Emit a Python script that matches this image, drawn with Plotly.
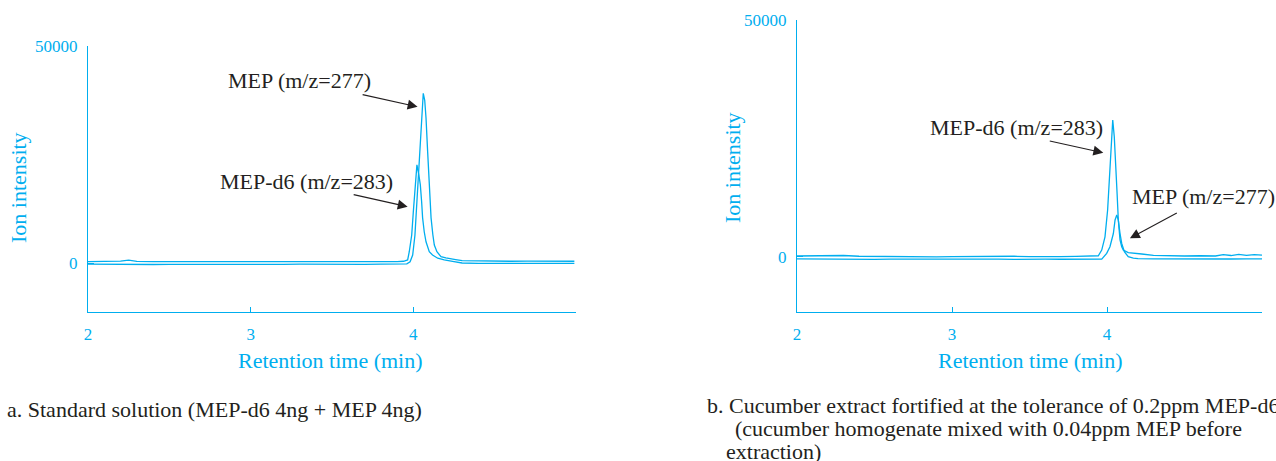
import plotly.graph_objects as go

W, H = 1276, 461
CYAN = "#00aeef"
INK = "#231f20"
FONT = "Liberation Serif"

# ---------------- data (retention time in min, ion intensity) ----------------
# Panel a: standard solution
a_mep_t = [2.00, 2.10, 2.20, 2.25, 2.30, 2.40, 2.50, 2.60, 2.70, 2.80, 2.90, 3.00, 3.10, 3.20,
           3.30, 3.40, 3.50, 3.60, 3.70, 3.80, 3.90, 3.96, 3.98, 3.996, 4.010, 4.022, 4.033,
           4.043, 4.053, 4.061, 4.070, 4.078, 4.088, 4.098, 4.109, 4.120, 4.129, 4.145, 4.170,
           4.200, 4.231, 4.26, 4.30, 4.40, 4.50, 4.60, 4.70, 4.80, 4.90, 4.99]
a_mep_i = [-250, -300, -200, -250, -280, -350, -300, -320, -250, -300, -350, -300, -280, -320,
           -260, -300, -330, -280, -300, -260, -250, -200, 300, 1840, 6450, 14100, 21800,
           29500, 36400, 39100, 37500, 33400, 25600, 18000, 10400, 6500, 4150, 2600, 1450,
           1200, 1080, 800, 550, 450, 480, 400, 430, 420, 380, 400]

a_d6_t = [2.00, 2.10, 2.20, 2.25, 2.30, 2.40, 2.50, 2.60, 2.70, 2.80, 2.90, 3.00, 3.10, 3.20,
          3.30, 3.40, 3.50, 3.60, 3.70, 3.80, 3.90, 3.94, 3.965, 3.975, 3.990, 4.000, 4.010,
          4.022, 4.034, 4.043, 4.051, 4.057, 4.067, 4.078, 4.098, 4.118, 4.150, 4.190, 4.25,
          4.30, 4.40, 4.50, 4.60, 4.70, 4.80, 4.90, 4.99]
a_d6_i = [300, 350, 420, 650, 380, 300, 250, 300, 320, 280, 300, 260, 320, 300,
          280, 320, 300, 290, 310, 330, 320, 400, 700, 2600, 6450, 11800, 18000,
          22600, 20300, 18000, 14100, 10400, 7200, 4900, 2600, 1840, 1100, 700, 300,
          0, -100, -80, -120, -60, -100, -80, -100]

# Panel b: cucumber extract
b_d6_t = [2.00, 2.10, 2.20, 2.30, 2.40, 2.50, 2.60, 2.70, 2.80, 2.90, 3.00, 3.10, 3.20, 3.30,
          3.40, 3.50, 3.60, 3.70, 3.80, 3.90, 3.944, 3.966, 3.987, 4.004, 4.015, 4.026, 4.037,
          4.047, 4.056, 4.065, 4.073, 4.084, 4.095, 4.105, 4.137, 4.180, 4.224, 4.30, 4.40,
          4.50, 4.60, 4.70, 4.75, 4.80, 4.85, 4.90, 4.95, 5.00]
b_d6_i = [150, 200, 100, 250, 100, 50, 0, 50, 0, -50, 0, 50, 0, 200,
          100, 0, -50, 0, 50, 100, 200, 1400, 4200, 9860, 16900, 23950, 28870,
          25350, 20400, 13400, 7750, 3530, 2100, 1400, 850, 650, 570, 300, 200,
          150, 200, 150, 450, 250, 500, 300, 450, 350]

b_mep_t = [2.00, 2.10, 2.20, 2.30, 2.40, 2.50, 2.60, 2.70, 2.80, 2.90, 3.00, 3.10, 3.20, 3.30,
           3.40, 3.50, 3.60, 3.70, 3.80, 3.90, 3.966, 3.998, 4.019, 4.041, 4.052, 4.063,
           4.073, 4.084, 4.095, 4.112, 4.137, 4.170, 4.200, 4.30, 4.40, 4.50, 4.60, 4.70,
           4.80, 4.90, 5.00]
b_mep_i = [-450, -500, -550, -500, -520, -550, -500, -480, -550, -520, -500, -550, -520, -500,
           -550, -480, -500, -540, -520, -500, -500, 700, 2100, 4900, 7750, 8800,
           7750, 4900, 2800, 1050, 0, -300, -400, -450, -480, -450, -500, -450,
           -480, -450, -470]

x_ticks = [2, 3, 4, 5]
x_tick_text = ["2", "3", "4", ""]
y_ticks = [0, 50000]
y_tick_text = ["0", "50000"]

# ---------------- layout helpers (pixel -> paper) ----------------
def px(x):
    return x / W

def py(y):
    return 1 - y / H

fig = go.Figure()
line = dict(color=CYAN, width=1.3)
fig.add_trace(go.Scatter(x=a_d6_t, y=a_d6_i, mode="lines", line=line, xaxis="x", yaxis="y",
                         name="MEP-d6 (m/z=283)", showlegend=False))
fig.add_trace(go.Scatter(x=a_mep_t, y=a_mep_i, mode="lines", line=line, xaxis="x", yaxis="y",
                         name="MEP (m/z=277)", showlegend=False))
fig.add_trace(go.Scatter(x=b_d6_t, y=b_d6_i, mode="lines", line=line, xaxis="x2", yaxis="y2",
                         name="MEP-d6 (m/z=283)", showlegend=False))
fig.add_trace(go.Scatter(x=b_mep_t, y=b_mep_i, mode="lines", line=line, xaxis="x2", yaxis="y2",
                         name="MEP (m/z=277)", showlegend=False))

tickfont = dict(family=FONT, size=17, color=CYAN)
xcommon = dict(range=[2, 5], tickvals=x_ticks, ticktext=x_tick_text, ticks="inside",
               ticklen=5, tickwidth=1.2, tickcolor=CYAN, showline=True, linecolor=CYAN,
               linewidth=1.3, showgrid=False, zeroline=False, tickfont=tickfont,
               ticklabelstandoff=6, automargin=False)
ycommon = dict(tickvals=y_ticks, ticktext=y_tick_text, ticks="inside", ticklen=6,
               tickwidth=1.2, tickcolor=CYAN, showline=True, linecolor=CYAN, linewidth=1.3,
               showgrid=False, zeroline=False, tickfont=tickfont, ticklabelstandoff=6,
               automargin=False)

fig.update_layout(
    width=W, height=H, autosize=False,
    margin=dict(l=0, r=0, t=0, b=0, pad=0, autoexpand=False),
    paper_bgcolor="white", plot_bgcolor="white", showlegend=False,
    xaxis=dict(domain=[px(88), px(576)], anchor="y", **xcommon),
    yaxis=dict(domain=[py(312), py(46)], anchor="x", range=[-11290, 50000], **ycommon),
    xaxis2=dict(domain=[px(797), px(1262)], anchor="y2", **xcommon),
    yaxis2=dict(domain=[py(312), py(20)], anchor="x2", range=[-11680, 50000], **ycommon),
)

ann = []
title_font = dict(family=FONT, size=22, color=CYAN)
ink_font = dict(family=FONT, size=22, color=INK)

# axis titles
for xc, yc in [(330, 360), (1030, 360)]:
    ann.append(dict(xref="paper", yref="paper", x=px(xc), y=py(yc), text="Retention time (min)",
                    showarrow=False, xanchor="center", yanchor="middle", font=title_font))
for xc, yc in [(18, 188), (733, 168)]:
    ann.append(dict(xref="paper", yref="paper", x=px(xc), y=py(yc), text="Ion intensity",
                    showarrow=False, xanchor="center", yanchor="middle", textangle=-90,
                    font=title_font))

# peak labels
labels = [(226, 80, "MEP (m/z=277)"), (218, 181, "MEP-d6 (m/z=283)"),
          (928, 127, "MEP-d6 (m/z=283)"), (1130, 197, "MEP (m/z=277)")]
for xl, yl, t in labels:
    ann.append(dict(xref="paper", yref="paper", x=px(xl), y=py(yl), text=t, showarrow=False,
                    xanchor="left", yanchor="middle", font=ink_font))

# arrows (head -> tail in data coordinates)
arrows = [("x", "y", 4.026, 36010, 3.679, 38870),
          ("x", "y", 3.965, 12970, 3.624, 15830),
          ("x2", "y2", 3.976, 21960, 3.621, 24500),
          ("x2", "y2", 4.148, 3890, 4.460, 9380)]
for xr, yr, hx, hy, tx, ty in arrows:
    ann.append(dict(xref=xr, yref=yr, axref=xr, ayref=yr, x=hx, y=hy, ax=tx, ay=ty, text="",
                    showarrow=True, arrowhead=2, arrowsize=1.8, arrowwidth=1.1,
                    arrowcolor=INK, standoff=0, startstandoff=0))

# captions
captions = [(5, 409, "a. Standard solution (MEP-d6 4ng + MEP 4ng)"),
            (705, 405, "b. Cucumber extract fortified at the tolerance of 0.2ppm MEP-d6"),
            (733, 428, "(cucumber homogenate mixed with 0.04ppm MEP before"),
            (724, 451, "extraction)")]
for xl, yl, t in captions:
    ann.append(dict(xref="paper", yref="paper", x=px(xl), y=py(yl), text=t, showarrow=False,
                    xanchor="left", yanchor="middle", font=ink_font))

fig.update_layout(annotations=ann)
fig.write_html(
    "out.html",
    config={"displayModeBar": False},
    post_script="document.body.style.margin='0';document.body.style.overflow='hidden';",
)
